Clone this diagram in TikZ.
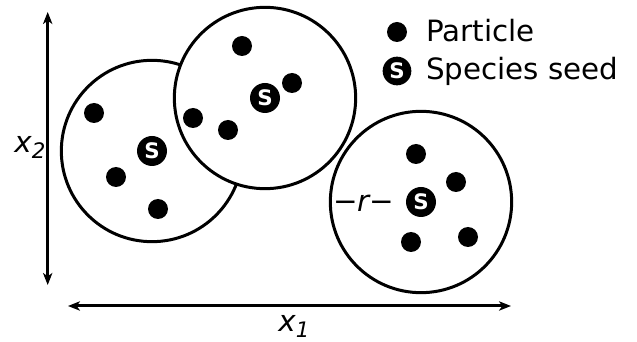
\documentclass[tikz,border=0pt]{standalone}
\usepackage{fontspec}
\setmainfont{DejaVu Sans}
\usetikzlibrary{arrows.meta}
\newcommand{\lblfont}{\fontsize{22}{26}\selectfont}
\newcommand{\subfont}{\fontsize{16}{19}\selectfont}
\begin{document}
\begin{tikzpicture}[x=0.75pt,y=-0.75pt,
  region/.style={circle,draw=black,line width=2.25pt,fill=white,minimum size=136pt,inner sep=0pt},
  particle/.style={circle,fill=black,minimum size=15pt,inner sep=0pt},
  seed/.style={circle,fill=black,text=white,minimum size=22.5pt,inner sep=0pt,font=\bfseries\fontsize{16}{16}\selectfont},
  axis/.style={line width=2.25pt,{Stealth[length=9pt,width=7pt,inset=2.5pt]}-{Stealth[length=9pt,width=7pt,inset=2.5pt]}},
  lbl/.style={font=\lblfont,inner sep=0pt}]
\useasboundingbox (0,0) rectangle (637,342);
% regions
\node[region] (c1) at (152,151) {};
\node[region] (c2) at (265,98) {};
\node[region] (c3) at (421,202) {};
% seeds
\node[seed] (s1) at (c1) {S};
\node[seed] (s2) at (c2) {S};
\node[seed] (s3) at (c3) {S};
% particles
\node[particle] (p1) at (94,113) {};
\node[particle] (p2) at (116,177) {};
\node[particle] (p3) at (158,209) {};
\node[particle] (p4) at (242,46) {};
\node[particle] (p5) at (292,83) {};
\node[particle] (p6) at (193,118) {};
\node[particle] (p7) at (228,130) {};
\node[particle] (p8) at (416,154) {};
\node[particle] (p9) at (456,182) {};
\node[particle] (p10) at (411,242) {};
\node[particle] (p11) at (468,237) {};
% radius label
\node[lbl] (r) at (364,203) {−\kern-1pt\textit{r}\kern-1pt−};
% legend
\node[particle] (lp) at (397,32) {};
\node[lbl,anchor=base west] (lpt) at (426,42) {Particle};
\node[seed,minimum size=21.5pt] (ls) at (397,71) {S};
\node[lbl,anchor=base west] (lst) at (426,80) {Species seed};
% axes
\coordinate (ya) at (47.7,12);
\coordinate (yb) at (47.7,285);
\coordinate (xa) at (68,306);
\coordinate (xb) at (511,306);
\draw[axis] (ya) -- (yb);
\draw[axis] (xa) -- (xb);
\node[lbl,anchor=base west] (x2) at (14,153) {\textit{x}\raisebox{-4.5pt}{\subfont\itshape 2}};
\node[lbl,anchor=base west] (x1) at (278,332) {\textit{x}\raisebox{-4.5pt}{\subfont\itshape 1}};
\end{tikzpicture}
\end{document}
